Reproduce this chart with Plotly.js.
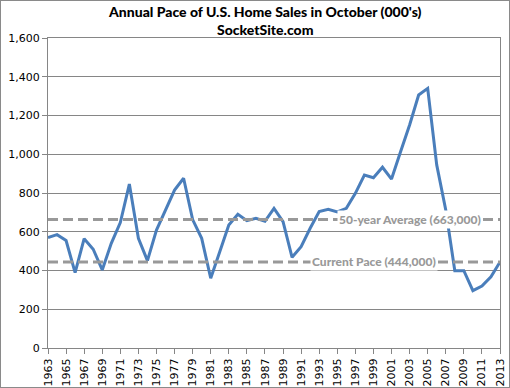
<!DOCTYPE html>
<html><head><meta charset="utf-8">
<script src="https://cdn.plot.ly/plotly-3.0.1.min.js"></script>
<style>html,body{margin:0;padding:0;background:#fff}#c{width:508px;height:386px;border:1px solid #8a8a8a}</style>
</head><body><div id="c"></div>
<script>
const years = [1963,1964,1965,1966,1967,1968,1969,1970,1971,1972,1973,1974,1975,1976,1977,1978,1979,1980,1981,1982,1983,1984,1985,1986,1987,1988,1989,1990,1991,1992,1993,1994,1995,1996,1997,1998,1999,2000,2001,2002,2003,2004,2005,2006,2007,2008,2009,2010,2011,2012,2013];
const sales = [570,585,555,389,564,510,403,540,647,846,566,451,609,716,815,876,663,566,360,497,635,690,657,669,654,721,652,468,523,618,704,716,702,721,798,893,879,933,872,1013,1151,1306,1340,945,712,399,399,296,320,368,444];
const avgValue = 663;
const currentValue = 444;
const avgLabel = "50-year Average (663,000)";
const currentLabel = "Current Pace (444,000)";
const titleLine1 = "Annual Pace of U.S. Home Sales in October (000's)";
const titleLine2 = "SocketSite.com";
const tickYears = years.filter((y,i)=>i%2===0);

const grid = '#868686';
const dashColor = '#999999';
const trace = {x: years, y: sales, type:'scatter', mode:'lines', line:{color:'#4a7ebb', width:3}, hoverinfo:'skip'};
const titleFont = {family:'Lato', size:14, color:'#000', weight:900};
const labelFont = {family:'Lato', size:12, color:'#999', weight:900};
const layout = {
  width:508, height:386,
  margin:{l:47, r:9, t:37, b:39},
  paper_bgcolor:'#fff', plot_bgcolor:'#fff',
  showlegend:false,
  font:{family:'DejaVu Sans', size:11, color:'#000'},
  xaxis:{range:[1963,2013], tickvals:tickYears, ticktext:tickYears.map(String), tickangle:-90, ticks:'outside', ticklen:5, tickcolor:grid, showgrid:false, zeroline:false, showline:true, mirror:true, linecolor:grid, linewidth:1, tickfont:{size:11}},
  yaxis:{range:[0,1600], dtick:200, tickformat:',d', ticks:'outside', ticklen:5, tickcolor:grid, showgrid:true, gridcolor:grid, gridwidth:1, zeroline:false, showline:true, mirror:true, linecolor:grid, linewidth:1, tickfont:{size:11}},
  shapes:[
    {type:'line', xref:'paper', x0:0, x1:1, yref:'y', y0:avgValue, y1:avgValue, line:{color:dashColor, width:3, dash:'10px,5px'}},
    {type:'line', xref:'paper', x0:0, x1:1, yref:'y', y0:currentValue, y1:currentValue, line:{color:dashColor, width:3, dash:'10px,5px'}}
  ],
  annotations:[
    {x:0.48, y:1.058, xref:'paper', yref:'paper', xanchor:'center', yanchor:'middle', text:titleLine1+'<br>'+titleLine2, showarrow:false, font:titleFont, borderpad:0},
    {x:2003, y:avgValue, xref:'x', yref:'y', text:avgLabel, showarrow:false, bgcolor:'#fff', borderpad:1, font:labelFont},
    {x:1999.1, y:currentValue, xref:'x', yref:'y', text:currentLabel, showarrow:false, bgcolor:'#fff', borderpad:1, font:labelFont}
  ]
};
Plotly.newPlot('c',[trace],layout,{displayModeBar:false, staticPlot:true});
</script></body></html>
